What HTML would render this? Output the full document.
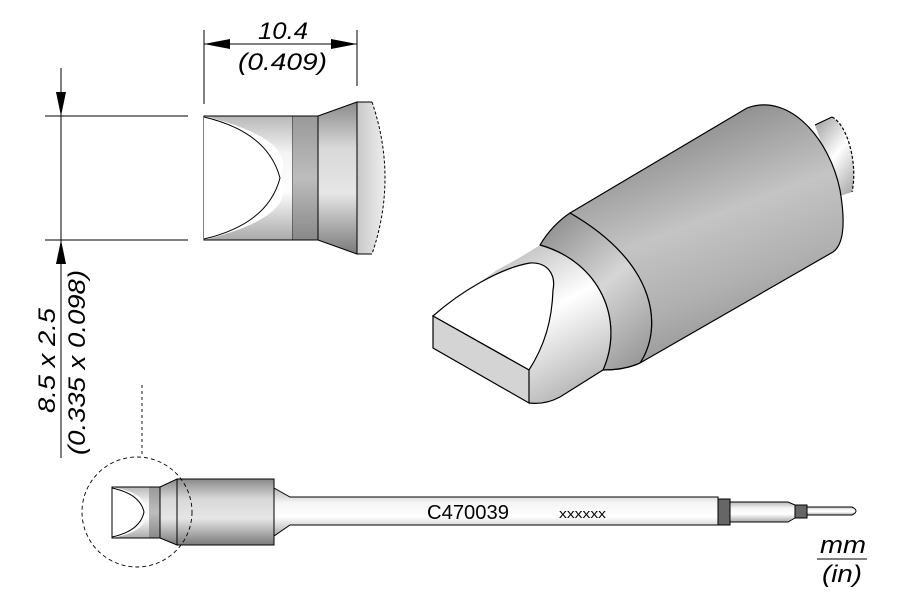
<!DOCTYPE html>
<html><head><meta charset="utf-8"><style>html,body{margin:0;padding:0;background:#fff}svg{display:block}</style></head>
<body>
<svg width="900" height="600" viewBox="0 0 900 600" xmlns="http://www.w3.org/2000/svg" font-family="Liberation Sans, sans-serif">
<defs>
<linearGradient id="v" x1="0" y1="0" x2="0" y2="1">
<stop offset="0" stop-color="#8a8a8a"/><stop offset="0.3" stop-color="#d8d8d8"/><stop offset="0.6" stop-color="#e6e6e6"/><stop offset="1" stop-color="#7a7a7a"/></linearGradient>
<linearGradient id="vl" x1="0" y1="0" x2="0" y2="1">
<stop offset="0" stop-color="#b8b8b8"/><stop offset="0.3" stop-color="#f4f4f4"/><stop offset="0.6" stop-color="#ffffff"/><stop offset="1" stop-color="#aaaaaa"/></linearGradient>
<linearGradient id="vd" x1="0" y1="0" x2="0" y2="1">
<stop offset="0" stop-color="#999"/><stop offset="0.5" stop-color="#bdbdbd"/><stop offset="1" stop-color="#888"/></linearGradient>
<linearGradient id="dome" x1="0" y1="0" x2="1" y2="0">
<stop offset="0" stop-color="#c8c8c8"/><stop offset="1" stop-color="#eeeeee"/></linearGradient>
<linearGradient id="cyl" x1="0.3" y1="0" x2="0.7" y2="1">
<stop offset="0" stop-color="#7e7e7e"/><stop offset="0.45" stop-color="#c4c4c4"/><stop offset="0.7" stop-color="#b0b0b0"/><stop offset="1" stop-color="#8a8a8a"/></linearGradient>
<linearGradient id="cyl2" x1="0.2" y1="0" x2="0.8" y2="1">
<stop offset="0" stop-color="#909090"/><stop offset="0.5" stop-color="#d6d6d6"/><stop offset="1" stop-color="#9a9a9a"/></linearGradient>
<linearGradient id="cyl3" x1="0.2" y1="0" x2="0.8" y2="1">
<stop offset="0" stop-color="#aaa"/><stop offset="0.5" stop-color="#ffffff"/><stop offset="1" stop-color="#b0b0b0"/></linearGradient>
</defs>

<!-- top dimension -->
<g stroke="#000" stroke-width="1" fill="none">
<line x1="204" y1="30" x2="204" y2="104"/>
<line x1="357" y1="30" x2="357" y2="86"/>
<line x1="204" y1="44" x2="357" y2="44"/>
<line x1="45" y1="116" x2="188" y2="116"/>
<line x1="45" y1="240" x2="188" y2="240"/>
<line x1="61" y1="68" x2="61" y2="458"/>
</g>
<polygon points="204,44 230,39 230,49" fill="#000"/>
<polygon points="357,44 331,39 331,49" fill="#000"/>
<polygon points="61,116 56,92 66,92" fill="#000"/>
<polygon points="61,240 56,264 66,264" fill="#000"/>
<text x="258" y="39" font-size="24" font-style="italic" textLength="50" lengthAdjust="spacingAndGlyphs">10.4</text>
<text x="238" y="70" font-size="24" font-style="italic" textLength="89" lengthAdjust="spacingAndGlyphs">(0.409)</text>
<text transform="translate(55,413) rotate(-90)" font-size="24" font-style="italic" textLength="105" lengthAdjust="spacingAndGlyphs">8.5 x 2.5</text>
<text transform="translate(85,455) rotate(-90)" font-size="24" font-style="italic" textLength="185" lengthAdjust="spacingAndGlyphs">(0.335 x 0.098)</text>

<!-- front view -->
<g stroke="#000" stroke-width="1">
<rect x="204" y="116" width="89" height="124" fill="url(#vl)"/>
<path d="M204,116 Q300,140 280,178 Q300,216 204,240 Z" fill="#fff" stroke="none"/>
<path d="M204,117 Q268,132 280,178 Q268,224 204,239" fill="none"/>
<rect x="293" y="116" width="25" height="124" fill="url(#vd)" stroke="none"/>
<line x1="204" y1="116" x2="318" y2="116"/><line x1="204" y1="240" x2="318" y2="240"/>
<path d="M318,116 L357,102 L357,254 L318,240 Z" fill="url(#v)"/>
<path d="M357,102 L372,102 Q398,178 372,254 L357,254 Z" fill="url(#dome)" stroke="none"/>
<path d="M357,102 L372,102 M357,254 L372,254 M357,102 L357,254" fill="none"/>
<path d="M372,102 Q398,178 372,254" fill="none" stroke-dasharray="3,2"/>
</g>

<!-- 3D view -->
<g stroke="#000" stroke-width="1.2">
<path d="M815,125 L832,117 C848,125 858,165 852,192 L840,196 Z" fill="url(#cyl3)" stroke="none"/>
<path d="M815,125 L832,117" fill="none"/>
<path d="M832,117 C848,125 858,165 852,192" fill="none" stroke-dasharray="3,2"/>
<path d="M570,213 L747,108 C790,92 830,140 840,190 C846,225 843,245 833,252 L640,363 C662,330 660,265 570,213 Z" fill="url(#cyl)"/>
<path d="M540,245 Q552,225 570,213 C660,265 662,330 640,363 Q625,370 603,370 C625,320 600,262 540,245 Z" fill="url(#cyl2)"/>
<path d="M497,270 Q520,258 540,245 C600,262 625,320 603,370 L560,397 Q545,405 529,403 L433,348 L433,316 Z" fill="url(#cyl3)" stroke="none"/>
<path d="M540,245 C600,262 625,320 603,370" fill="none"/>
<path d="M433,316 C460,292 500,268 530,263 C548,262 556,275 553,290 C552,320 545,345 529,370 Z" fill="#fff"/>
<path d="M433,316 L529,370 L529,403 L433,348 Z" fill="#d4d4d4"/>
<path d="M529,403 Q545,405 560,397 L603,370 Q625,370 640,363" fill="none"/>
</g>

<!-- bottom full tip -->
<g stroke="#000" stroke-width="1">
<path d="M274,488 L290,497 L718,497 L718,525 L290,525 L274,536 Z" fill="url(#vl)"/>
<rect x="718" y="499" width="12" height="26" fill="#666"/>
<path d="M730,502 L788,502 L795,505 L795,518 L788,522 L730,522 Z" fill="url(#vl)"/>
<rect x="795" y="505" width="12" height="13" fill="#666"/>
<path d="M807,507 L852,507 Q860,511 852,515 L807,515 Z" fill="url(#vl)"/>
<rect x="177" y="479" width="97" height="66" fill="url(#v)"/>
<path d="M160,487 L177,479 L177,545 L160,538 Z" fill="url(#v)"/>
<rect x="112" y="487" width="48" height="51" fill="url(#vl)"/>
<rect x="149" y="487" width="11" height="51" fill="url(#vd)" stroke="none"/>
<path d="M112,487 Q150,494 144,512 Q150,531 112,538 Z" fill="#fff" stroke="none"/>
<path d="M112,488 Q140,494 144,512 Q140,531 112,537" fill="none"/>
<rect x="112" y="487" width="48" height="51" fill="none"/>
<circle cx="137" cy="512" r="55" fill="none" stroke-dasharray="4,3" stroke-width="0.9"/>
<line x1="142" y1="385" x2="142" y2="457" stroke-dasharray="3,3" stroke-width="0.9"/>
</g>
<text x="427" y="519" font-size="20" textLength="82" lengthAdjust="spacingAndGlyphs">C470039</text>
<text x="559" y="518" font-size="13" textLength="47" lengthAdjust="spacingAndGlyphs">xxxxxx</text>
<text x="820" y="553" font-size="24" font-style="italic" textLength="46" lengthAdjust="spacingAndGlyphs">mm</text>
<line x1="817" y1="559" x2="867" y2="559" stroke="#000" stroke-width="1"/>
<text x="822" y="582" font-size="24" font-style="italic" textLength="40" lengthAdjust="spacingAndGlyphs">(in)</text>
</svg>
</body></html>
